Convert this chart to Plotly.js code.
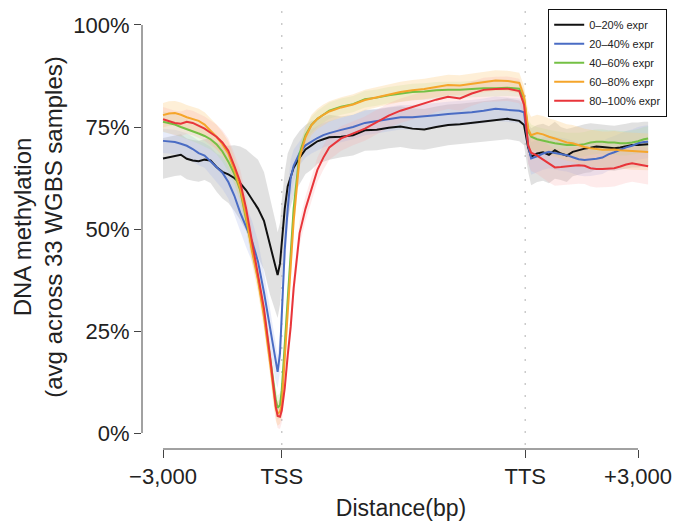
<!DOCTYPE html>
<html>
<head>
<meta charset="utf-8">
<script src="https://cdn.plot.ly/plotly-3.0.1.min.js"></script>
<style>
html,body{margin:0;padding:0;background:#fff;}
#chart{width:684px;height:527px;}
</style>
</head>
<body>
<div id="chart"></div>
<script>
// Position along the scaled metagene: 0 = -3,000 bp, 20 = TSS, 61 = TTS, 80 = +3,000 bp
const pos = [0,1,2,3,4,5,6,7,8,9,10,11,12,13,14,15,16,17,18,
  18.5,19,19.3,19.7,20,20.5,21,21.5,22,
  23,24,25,26,27,28,30,32,34,36,38,40,42,44,46,48,50,52,54,56,58,60,60.8,
  61.5,62,63,64,65,66,67,68,69,70,71,72,73,74,75,76,77,78,79,80,81,81.7];

const tickPos = [0, 20, 61, 80];
const tickLabels = ['\u22123,000', 'TSS', 'TTS', '+3,000'];
const yTickVals = [0, 25, 50, 75, 100];
const yTickLabels = ['0%', '25%', '50%', '75%', '100%'];

const seriesNames = ['0\u201320% expr', '20\u201340% expr', '40\u201360% expr', '60\u201380% expr', '80\u2013100% expr'];

// mean methylation (%)
const expr0_20 = [67.3,67.6,68.0,68.2,67.2,66.8,66.6,67.0,66.8,65.2,64.0,63.4,62.5,61.2,59.5,57.2,55.0,52.0,46.0,
  43.0,40.5,38.7,41.5,47.0,55.0,60.5,63.0,65.0,
  67.5,69.5,70.5,71.5,72.0,72.5,72.6,73.0,74.2,74.3,74.8,75.1,74.6,74.4,75.0,75.5,75.7,76.0,76.3,76.7,77.0,76.5,75.5,
  70.0,67.7,68.5,68.8,68.2,69.3,68.5,68.0,68.9,69.3,69.7,69.9,70.2,70.1,69.9,69.8,70.0,70.3,70.6,70.6,70.8,70.8];
const expr20_40 = [71.6,71.5,71.3,70.9,70.4,69.6,68.6,68.0,66.6,65.0,63.8,61.5,58.2,54.0,50.5,47.0,42.0,34.5,26.0,
  21.5,17.0,15.0,19.5,28.5,44.9,55.0,62.5,65.5,
  68.6,70.5,71.5,72.3,73.0,73.5,74.3,75.0,76.0,76.5,76.9,77.4,77.4,77.6,77.9,78.2,78.4,78.6,79.0,79.5,79.2,79.0,78.6,
  70.5,67.3,67.8,68.5,68.9,68.6,68.3,68.1,67.6,67.1,66.9,67.0,67.2,67.5,68.3,68.8,69.5,70.0,70.4,71.0,71.3,71.4];
const expr40_60 = [76.3,75.9,75.6,75.0,74.5,74.0,73.4,72.8,72.0,70.8,69.0,66.5,63.5,59.5,52.5,45.0,38.0,29.5,19.0,
  13.0,8.0,6.2,6.8,10.5,22.0,34.0,45.0,55.0,
  68.5,73.0,75.5,77.0,78.0,79.0,80.0,80.6,81.8,82.2,82.8,83.2,83.6,83.7,84.0,84.1,84.1,84.3,84.5,84.5,84.6,84.4,82.0,
  74.0,72.6,72.0,71.6,71.3,71.0,70.8,70.6,70.6,70.6,70.8,71.2,71.4,71.4,71.2,71.2,71.0,71.0,71.2,71.5,72.0,72.2];
const expr60_80 = [77.9,78.3,78.4,78.0,77.4,77.0,76.5,75.6,74.2,72.6,70.8,68.5,64.5,60.0,53.0,44.5,37.5,28.5,17.5,
  11.0,6.0,4.8,5.2,7.0,19.0,30.0,40.5,52.0,
  67.5,72.5,75.5,77.0,78.0,78.8,79.8,80.5,81.6,82.3,83.0,83.6,84.0,84.3,84.8,85.3,85.2,85.6,86.0,86.4,86.3,85.8,82.5,
  74.5,73.0,73.5,73.2,72.6,72.2,71.7,71.2,71.0,70.5,70.1,69.8,69.6,69.4,69.4,69.5,69.3,69.2,69.0,68.9,68.9,68.9];
const expr80_100 = [76.9,76.5,76.0,75.8,76.3,76.0,75.3,74.6,73.6,72.6,71.2,69.2,65.5,61.5,55.0,47.0,39.5,30.5,19.0,
  12.5,6.5,4.2,4.0,5.5,11.0,19.0,26.0,35.5,
  49.0,55.0,60.0,64.5,67.5,70.0,72.2,73.5,74.6,76.2,77.8,79.0,79.9,80.7,81.7,82.4,82.0,83.2,84.1,84.3,84.4,83.8,80.5,
  70.5,68.7,68.0,67.0,65.9,65.1,65.2,65.4,65.5,65.6,65.5,64.9,64.7,64.7,64.8,64.9,65.3,65.8,66.1,65.9,65.6,65.4];

// half-width of the shaded spread around each mean (%)
const spread0_20 = [5,5,5,5,5,5,5,5,5.5,6,6.5,7,8,9,10,11,12,12,12,
  11.5,11,10.5,10,10,9,8,7.5,7,
  6.5,6,6,5.5,5.5,5.5,5,5,5,5,5,5,5,5,5,5,5,5,5,5,5,5,5,
  6,7,7,7,7,7,6.5,6.5,6,6,6,6,5.5,5.5,5.5,5.5,5.5,5.5,5.5,5.5,5.5,5.5];
const spread20_40 = [3,3,3,3,3,3,3,3,3.5,3.5,4,4,4.5,4.5,5,5,5,5,5,
  5,4.5,4,4.5,5,5,5,4.5,4,
  3,3,3,3,3,3,3,3,3,3,3,3,3,3,3,3,3,3,3,3,3,3,3,
  4,4,4,4,4,4,4,4,4,4,4,4,4,4,4,4,4,4,4,4,4,4];
const spread40_60 = [2.5,2.5,2.5,2.5,2.5,2.5,2.5,2.5,2.5,2.5,2.5,2.5,2.5,2.5,2.5,2.5,2.5,2.5,2.5,
  3,3,3,3,3,3,3,3,3,
  2,2,2,2,2,2,2,2,2,2,2,2,2,2,2,2,2,2,2,2,2,2,2,
  3,3,3,3,3,3,3,3,3,3,3,3,3,3,3,3,3,3,3,3,3,3];
const spread60_80 = [3,3,3,3,3,3,3,3,3,3,3,3,3,3,3,3,3,3,3,
  3,3,3,3,3,3,3,3,3,
  2.5,2.5,2.5,2.5,2.5,2.5,2.5,2.5,2.5,2.5,2.5,2.5,2.5,2.5,2.5,2.5,2.5,2.5,2.5,2.5,2.5,2.5,2.5,
  4.5,4.5,4.5,4.5,4.5,4.5,4.5,4.5,4.5,4.5,4.5,4.5,4.5,4.5,4.5,4.5,4.5,4.5,4.5,4.5,4.5,4.5];
const spread80_100 = [3,3,3,3,3,3,3,3,3,3,3,3,3,3,3,3,3,3,3,
  3,3,3,3,3,3,3,3,3,
  3,3,3,3,3,3,3,3,3,3,3,3,3,3,3,3,3,3,3,3,3,3,3,
  4.5,4.5,4.5,4.5,4.5,4.5,4.5,4.5,4.5,4.5,4.5,4.5,4.5,4.5,4.5,4.5,4.5,4.5,4.5,4.5,4.5,4.5];

const means = [expr0_20, expr20_40, expr40_60, expr60_80, expr80_100];
const spreads = [spread0_20, spread20_40, spread40_60, spread60_80, spread80_100];
const lineColors = ['#111111', '#4a6cc4', '#74c044', '#f5a52a', '#e8353a'];
const bandColors = ['rgba(195,195,195,0.50)', 'rgba(165,180,235,0.25)', 'rgba(170,225,140,0.22)',
  'rgba(253,205,130,0.32)', 'rgba(250,165,165,0.22)'];

const traces = [];
means.forEach((m, i) => {
  const upper = m.map((v, k) => v + spreads[i][k]);
  const lower = m.map((v, k) => v - spreads[i][k]);
  traces.push({
    x: pos.concat(pos.slice().reverse()),
    y: upper.concat(lower.slice().reverse()),
    type: 'scatter', mode: 'lines', fill: 'toself',
    fillcolor: bandColors[i], line: {width: 0, color: 'rgba(0,0,0,0)'},
    hoverinfo: 'skip', showlegend: false
  });
});
means.forEach((m, i) => {
  traces.push({
    x: pos, y: m, type: 'scatter', mode: 'lines', name: seriesNames[i],
    line: {color: lineColors[i], width: 2}
  });
});

const FONT = 'Liberation Sans, Arial, Helvetica, sans-serif';
const layout = {
  width: 684, height: 527,
  margin: {l: 142, r: 24, t: 5, b: 78},
  paper_bgcolor: '#ffffff', plot_bgcolor: '#ffffff',
  font: {family: FONT, color: '#222222'},
  showlegend: true,
  legend: {
    x: 1.0135, y: 0.991, xanchor: 'right', yanchor: 'top',
    bgcolor: '#ffffff', bordercolor: '#111111', borderwidth: 1.2,
    font: {family: FONT, size: 11, color: '#222222'}
  },
  xaxis: {
    range: [-3.54, 83.7], showgrid: false, zeroline: false, showline: false,
    tickmode: 'array', tickvals: tickPos, ticktext: tickLabels,
    ticks: 'outside', ticklen: 8, tickwidth: 1, tickcolor: '#444444',
    tickfont: {family: FONT, size: 22, color: '#222222'},
    title: {text: 'Distance(bp)', font: {family: FONT, size: 23, color: '#222222'}, standoff: 11}
  },
  yaxis: {
    range: [-3.92, 104.9], showgrid: false, zeroline: false, showline: false,
    tickmode: 'array', tickvals: yTickVals, ticktext: yTickLabels,
    ticks: 'outside', ticklen: 7, tickwidth: 1, tickcolor: '#444444',
    tickfont: {family: FONT, size: 22, color: '#222222'},
    title: {text: 'DNA methylation<br>(avg across 33 WGBS samples)', font: {family: FONT, size: 24, color: '#222222'}, standoff: 3}
  },
  shapes: [
    {type: 'line', xref: 'paper', yref: 'y', x0: 0, x1: 0, y0: 0, y1: 100, line: {color: '#444444', width: 1}},
    {type: 'line', xref: 'x', yref: 'paper', x0: tickPos[0], x1: tickPos[3], y0: 0, y1: 0, line: {color: '#444444', width: 1}},
    {type: 'line', xref: 'x', yref: 'paper', x0: tickPos[1], x1: tickPos[1], y0: 0.01, y1: 1, layer: 'below', line: {color: '#888888', width: 1.3, dash: '1px,11px'}},
    {type: 'line', xref: 'x', yref: 'paper', x0: tickPos[2], x1: tickPos[2], y0: 0.01, y1: 1, layer: 'below', line: {color: '#888888', width: 1.3, dash: '1px,11px'}}
  ]
};

Plotly.newPlot('chart', traces, layout, {displayModeBar: false, staticPlot: true});
</script>
</body>
</html>
